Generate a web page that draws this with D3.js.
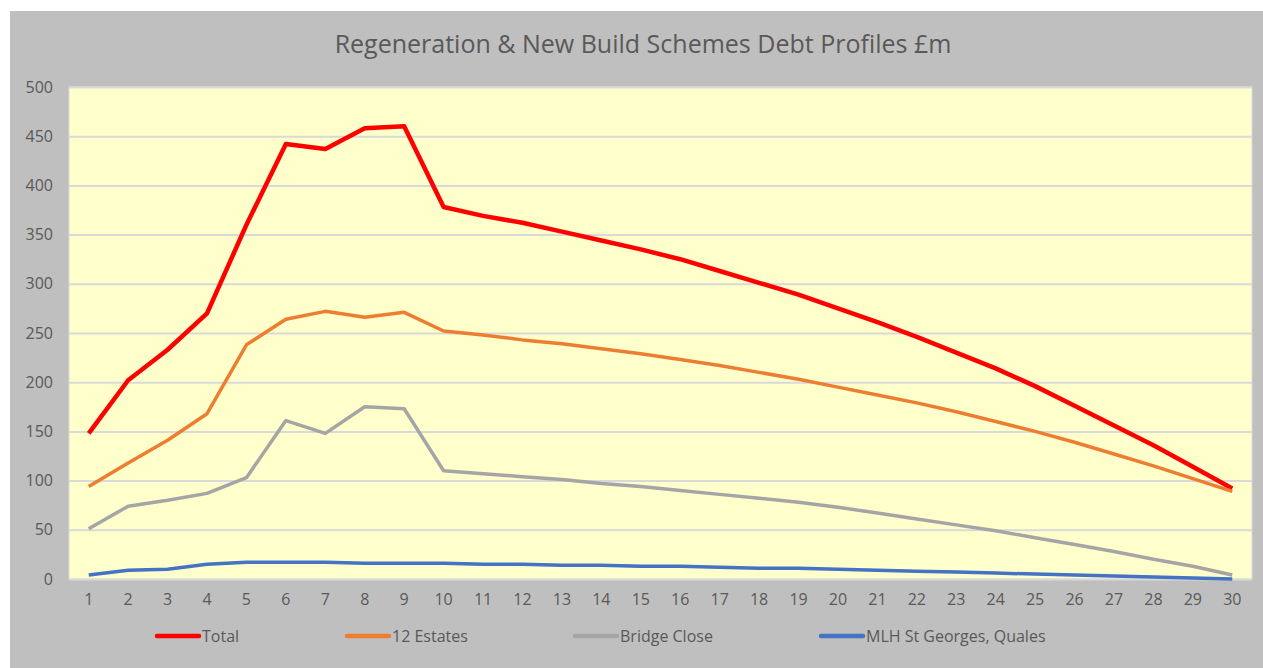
<!DOCTYPE html>
<html>
<head>
<meta charset="utf-8">
<script src="https://cdn.jsdelivr.net/npm/d3@7"></script>
<style>
  body { margin: 0; background: #fff; }
  svg { display: block; }
  text { font-family: "Open Sans", sans-serif; fill: #595959; }
</style>
</head>
<body>
<svg id="chart" width="1263" height="668"></svg>
<script>
const years = d3.range(1, 31);
const total = [148, 202, 233, 270, 360, 442, 437, 458, 460, 378, 369, 362, 353, 344, 335,
  325, 313, 301, 289, 275, 261, 246, 230, 214, 196, 176, 156, 136, 114, 92];
const estates = [94, 118, 141, 168, 238, 264, 272, 266, 271, 252, 248, 243, 239, 234, 229,
  223, 217, 210, 203, 195, 187, 179, 170, 160, 150, 139, 127, 115, 102, 89];
const bridgeClose = [51, 74, 80, 87, 103, 161, 148, 175, 173, 110, 107, 104, 101, 97, 94,
  90, 86, 82, 78, 73, 67, 61, 55, 49, 42, 35, 28, 20, 13, 4];
const mlh = [4, 9, 10, 15, 17, 17, 17, 16, 16, 16, 15, 15, 14, 14, 13,
  13, 12, 11, 11, 10, 9, 8, 7, 6, 5, 4, 3, 2, 1, 0];
const yTicks = [0, 50, 100, 150, 200, 250, 300, 350, 400, 450, 500];

const series = [
  { name: 'Total', values: total, color: '#ff0000', width: 4.5 },
  { name: '12 Estates', values: estates, color: '#ed7d31', width: 3.5 },
  { name: 'Bridge Close', values: bridgeClose, color: '#a5a5a5', width: 3.5 },
  { name: 'MLH St Georges, Quales', values: mlh, color: '#4472c4', width: 3.5 }
];

const svg = d3.select('#chart');
const width = +svg.attr('width');
const height = +svg.attr('height');

// chart background
svg.append('rect')
  .attr('x', 10).attr('y', 11)
  .attr('width', width - 10).attr('height', height - 11)
  .attr('fill', '#bfbfbf');

const margin = { top: 87, right: 11, bottom: 89, left: 69 };
const innerWidth = width - margin.left - margin.right;
const innerHeight = height - margin.top - margin.bottom;

const x = d3.scaleBand().domain(years).range([0, innerWidth]);
const y = d3.scaleLinear().domain([0, 500]).range([innerHeight, 0]);

const g = svg.append('g')
  .attr('transform', `translate(${margin.left},${margin.top})`);

g.append('rect')
  .attr('width', innerWidth).attr('height', innerHeight)
  .attr('fill', '#ffffcc')
  .attr('stroke', '#d9d9d9');

// gridlines + y labels
const yAxisG = g.append('g').call(d3.axisLeft(y)
  .tickValues(yTicks)
  .tickSize(-innerWidth)
  .tickPadding(16))
  .attr('font-size', 16)
  .attr('font-family', 'Open Sans');
yAxisG.select('.domain').remove();
yAxisG.selectAll('line').attr('stroke', '#d9d9d9').attr('stroke-width', 2);
yAxisG.selectAll('text').attr('fill', '#595959');

// x labels
const xAxisG = g.append('g')
  .attr('transform', `translate(0,${innerHeight})`)
  .call(d3.axisBottom(x).tickSize(0).tickPadding(15))
  .attr('font-size', 16)
  .attr('font-family', 'Open Sans');
xAxisG.select('.domain').remove();
xAxisG.selectAll('text').attr('fill', '#595959');

const line = d3.line()
  .x((d, i) => x(years[i]) + x.bandwidth() / 2)
  .y(d => y(d));

g.selectAll('.series')
  .data(series)
  .join('path')
  .attr('class', 'series')
  .attr('fill', 'none')
  .attr('stroke', d => d.color)
  .attr('stroke-width', d => d.width)
  .attr('stroke-linejoin', 'round')
  .attr('d', d => line(d.values));

// title
svg.append('text')
  .attr('x', 643)
  .attr('y', 53)
  .attr('text-anchor', 'middle')
  .attr('font-size', 25)
  .text('Regeneration & New Build Schemes  Debt Profiles £m');

// legend
const legendX = [157, 347, 575, 821];
const legend = svg.selectAll('.legend')
  .data(series)
  .join('g')
  .attr('class', 'legend')
  .attr('transform', (d, i) => `translate(${legendX[i]},636)`);
legend.append('line')
  .attr('x1', 0).attr('x2', 42)
  .attr('stroke', d => d.color)
  .attr('stroke-width', 4.5)
  .attr('stroke-linecap', 'round');
legend.append('text')
  .attr('x', 45)
  .attr('dy', '0.35em')
  .attr('font-size', 16)
  .text(d => d.name);
</script>
</body>
</html>
